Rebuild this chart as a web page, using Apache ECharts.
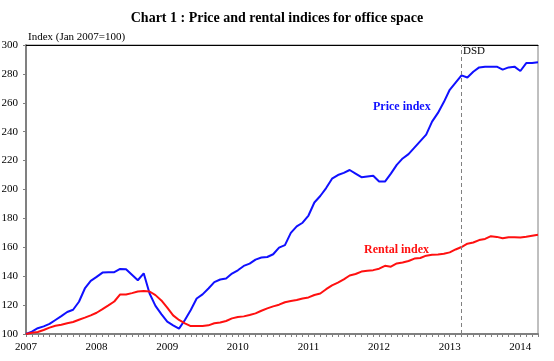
<!DOCTYPE html>
<html>
<head>
<meta charset="utf-8">
<script src="https://cdn.jsdelivr.net/npm/echarts@6/dist/echarts.min.js"></script>
<style>html,body{margin:0;padding:0;background:#fff}#c{width:554px;height:361px}</style>
</head>
<body>
<div id="c"></div>
<script>
// Months from Jan 2007 to Apr 2014
const startYear = 2007;
const monthCount = 88;
const months = [];
for (let i = 0; i < monthCount; i++) {
  const y = startYear + Math.floor(i / 12);
  const m = (i % 12) + 1;
  months.push(y + '-' + (m < 10 ? '0' + m : m));
}

const priceIndex = [
  100, 101.6, 104, 105.3, 107, 109.7, 112.4, 115.2, 116.8, 122.3, 131.5, 136.8,
  139.5, 142.5, 142.8, 142.8, 145, 144.8, 141, 137.2, 142, 128, 119.5, 113.8,
  108.5, 106, 103.7, 109.7, 116.6, 124.6, 127.4, 131.5, 135.9, 137.7, 138.4, 141.8,
  144.1, 147.1, 148.7, 151.5, 152.9, 153.3, 155.2, 159.8, 161.5, 170, 174.5, 177,
  182, 191, 195.5, 201, 207.5, 210, 211.5, 213.5, 211, 208.5, 209, 209.5,
  205.5, 205.5, 211, 217, 221.5, 224.5, 229, 233.5, 238, 247, 253, 260.5,
  269, 274, 279, 277.5, 281.5, 284.5, 285, 285, 285, 283, 284.5, 285,
  282, 287.5, 287.5, 288
];

const rentalIndex = [
  100, 100.9, 101.4, 102.8, 104.4, 105.7, 106.4, 107.4, 108.3, 109.9, 111.3, 112.9,
  114.7, 117.2, 119.8, 122.5, 127.4, 127.4, 128.3, 129.4, 129.7, 129.4, 126.9, 123.2,
  118.2, 112.9, 109.7, 107.4, 105.5, 105.5, 105.5, 106, 107.4, 108, 109, 110.8,
  111.7, 112.2, 113.1, 114.3, 116.1, 117.7, 119.1, 120.3, 122, 122.8, 123.5, 124.6,
  125.3, 127, 128, 131, 133.7, 135.5, 137.8, 140.5, 141.5, 143.2, 143.8, 144.2,
  145.2, 147.2, 146.6, 148.8, 149.5, 150.5, 152.2, 152.6, 154.2, 154.8, 155.1, 155.5,
  156.5, 158.5, 160.2, 162.5, 163.3, 165, 165.8, 167.7, 167.2, 166.2, 167, 167,
  166.8, 167.3, 168, 168.7
];

const dsdMonth = '2013-03';
const yTicks = { min: 100, max: 300, interval: 20 };

const serif = '"Liberation Serif", "Times New Roman", serif';
const chart = echarts.init(document.getElementById('c'));
chart.setOption({
  animation: false,
  backgroundColor: '#fff',
  title: {
    text: 'Chart 1 : Price and rental indices for office space',
    left: 'center', top: 6,
    textStyle: { fontFamily: serif, fontSize: 14, fontWeight: 'bold', color: '#000' }
  },
  grid: { left: 26, right: 16, top: 45, bottom: 27, show: true, borderColor: '#808080', borderWidth: 1, outerBoundsMode: 'none', containLabel: false },
  xAxis: [{
    type: 'category', data: months, boundaryGap: false,
    axisLine: { lineStyle: { color: '#808080', width: 2 } },
    axisTick: { interval: 0, length: 3, lineStyle: { color: '#808080' } },
    axisLabel: {
      interval: function (i) { return i % 12 === 0; },
      formatter: function (v) { return v.slice(0, 4); },
      fontFamily: serif, fontSize: 11, color: '#000', margin: 8
    },
    splitLine: { show: false }
  }, {
    type: 'category', data: months, boundaryGap: false, position: 'top',
    axisLine: { lineStyle: { color: '#000', width: 1 } },
    axisTick: { show: false }, axisLabel: { show: false }, splitLine: { show: false }
  }],
  yAxis: {
    type: 'value', min: yTicks.min, max: yTicks.max, interval: yTicks.interval,
    name: 'Index (Jan 2007=100)', nameLocation: 'end', nameGap: 2,
    nameTextStyle: { fontFamily: serif, fontSize: 11, color: '#000', align: 'left', verticalAlign: 'bottom', padding: [0, 0, 0, 2] },
    axisLine: { show: true, lineStyle: { color: '#808080', width: 2 } },
    axisTick: { show: true, length: 3, lineStyle: { color: '#808080' } },
    axisLabel: { fontFamily: serif, fontSize: 11, color: '#000', margin: 8 },
    splitLine: { show: false }
  },
  series: [{
    name: 'Price index', type: 'line', data: priceIndex, showSymbol: false,
    lineStyle: { color: '#1010FF', width: 2 }, itemStyle: { color: '#1010FF' },
    markLine: {
      silent: true, symbol: 'none', label: { show: false },
      lineStyle: { color: '#808080', type: [4, 3], width: 1 },
      data: [{ xAxis: dsdMonth }]
    }
  }, {
    name: 'Rental index', type: 'line', data: rentalIndex, showSymbol: false,
    lineStyle: { color: '#FF1010', width: 2 }, itemStyle: { color: '#FF1010' }
  }],
  graphic: [
    { type: 'text', left: 463, top: 46, style: { text: 'DSD', font: '11px ' + serif, fill: '#000' } },
    { type: 'text', left: 373, top: 101, style: { text: 'Price index', font: 'bold 12px ' + serif, fill: '#1010FF' } },
    { type: 'text', left: 364, top: 244, style: { text: 'Rental index', font: 'bold 12px ' + serif, fill: '#FF1010' } }
  ]
});
</script>
</body>
</html>
